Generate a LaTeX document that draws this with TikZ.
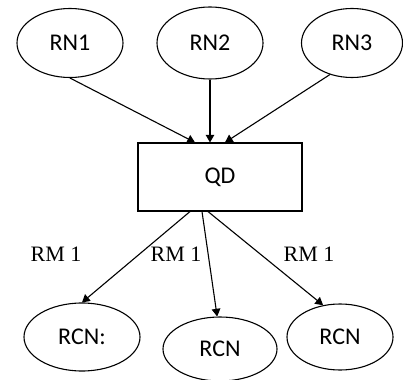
\documentclass[tikz,border=0pt]{standalone}
\usepackage{fontspec}
\setmainfont{Carlito}
\newfontfamily\rmlabel{Liberation Serif}
\usetikzlibrary{arrows,shapes.geometric}

\begin{document}
\begin{tikzpicture}[x=1pt,y=1pt,yscale=-1,xscale=1]
\useasboundingbox (0,0) rectangle (403,379);

%Shape: Ellipse [id:rn1]
\node [draw,ellipse,line width=1.1pt,inner sep=0pt,minimum width=106pt,minimum height=69pt,font=\fontsize{24}{26}\selectfont] (rn1) at (70,43) {RN1};
%Shape: Ellipse [id:rn2]
\node [draw,ellipse,line width=1.1pt,inner sep=0pt,minimum width=106pt,minimum height=72pt,font=\fontsize{24}{26}\selectfont] (rn2) at (210,43) {RN2};
%Shape: Ellipse [id:rn3]
\node [draw,ellipse,line width=1.1pt,inner sep=0pt,minimum width=101pt,minimum height=69pt,font=\fontsize{24}{26}\selectfont] (rn3) at (352,43) {RN3};

%Shape: Rectangle [id:qd]
\node [draw,rectangle,line width=1.1pt,minimum width=164pt,minimum height=68pt,font=\fontsize{24}{26}\selectfont] (qd) at (220,177) {QD};

%Shape: Ellipse [id:rcn1]
\node [draw,ellipse,line width=1.1pt,inner sep=0pt,minimum width=116pt,minimum height=68pt,font=\fontsize{24}{26}\selectfont] (rcn1) at (82,337) {RCN:};
%Shape: Ellipse [id:rcn2]
\node [draw,ellipse,line width=1.1pt,inner sep=0pt,minimum width=114pt,minimum height=64pt,font=\fontsize{24}{26}\selectfont] (rcn2) at (220,349) {RCN};
%Shape: Ellipse [id:rcn3]
\node [draw,ellipse,line width=1.1pt,inner sep=0pt,minimum width=106pt,minimum height=66pt,font=\fontsize{24}{26}\selectfont] (rcn3) at (340,337) {RCN};

% Text Node
\node [inner sep=0pt,font=\rmlabel\fontsize{22}{24}\selectfont] (rm1) at (56,254) {RM 1};
% Text Node
\node [inner sep=0pt,font=\rmlabel\fontsize{22}{24}\selectfont] (rm2) at (176,254) {RM 1};
% Text Node
\node [inner sep=0pt,font=\rmlabel\fontsize{22}{24}\selectfont] (rm3) at (309,254) {RM 1};

%Straight Lines [id:in]
\draw [-triangle 60,line width=1.1pt] (rn1.south) -- ([xshift=-25pt]qd.north);
\draw [-triangle 60,line width=1.1pt] (rn2.south) -- ([xshift=-10pt]qd.north);
\draw [-triangle 60,line width=1.1pt] (rn3.235) -- ([xshift=5pt]qd.north);

%Straight Lines [id:out]
\draw [-triangle 60,line width=1.1pt] ([xshift=-30pt]qd.south) -- (rcn1.north);
\draw [-triangle 60,line width=1.1pt] ([xshift=-18pt]qd.south) -- (rcn2.95);
\draw [-triangle 60,line width=1.1pt] ([xshift=-12pt]qd.south) -- (rcn3.118);

\end{tikzpicture}
\end{document}
